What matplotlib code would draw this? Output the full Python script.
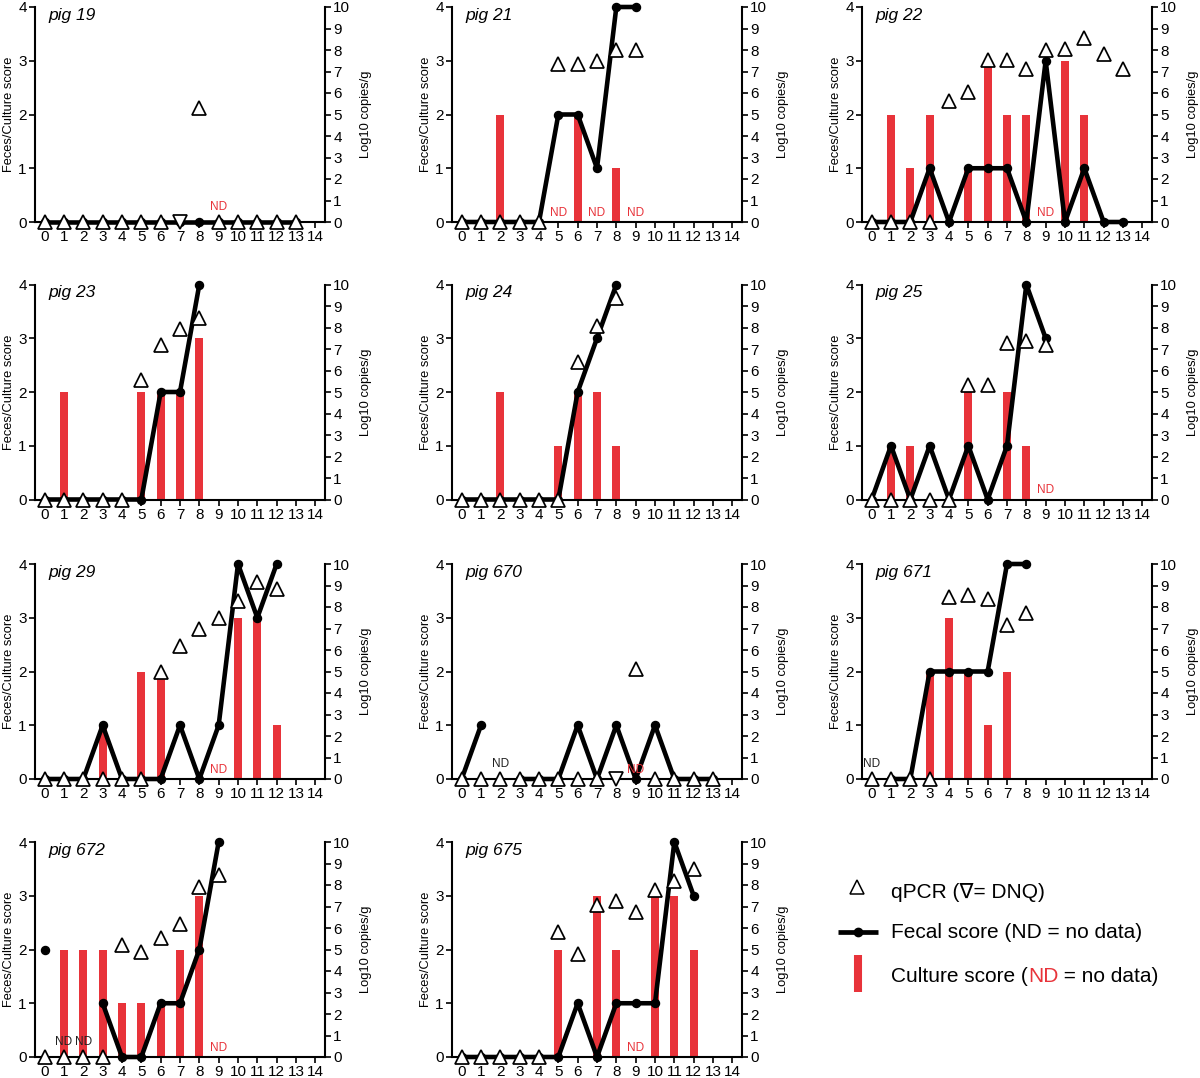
import numpy as np
import matplotlib
matplotlib.use("Agg")
import matplotlib.pyplot as plt
from matplotlib.lines import Line2D

plt.rcParams['font.family'] = ['Liberation Sans', 'DejaVu Sans']

nan = np.nan
RED = '#E8333A'

# ---------------- data ----------------
pig_names = ['pig 19', 'pig 21', 'pig 22', 'pig 23', 'pig 24', 'pig 25',
             'pig 29', 'pig 670', 'pig 671', 'pig 672', 'pig 675']

fecal_19 = [0, 0, 0, 0, 0, 0, 0, 0, 0, 0, 0, 0, 0, 0]
culture_19 = [0, 0, 0, 0, 0, 0, 0, 0, 0, nan, 0, 0, 0, 0]
qpcr_19 = [0, 0, 0, 0, 0, 0, 0, nan, 5.3, 0, 0, 0, 0, 0]
dnq_19 = [7]

fecal_21 = [0, 0, 0, 0, 0, 2, 2, 1, 4, 4]
culture_21 = [0, 0, 2, 0, 0, nan, 2, nan, 1, nan]
qpcr_21 = [0, 0, 0, 0, 0, 7.35, 7.35, 7.5, 8.0, 8.0]
dnq_21 = []

fecal_22 = [0, 0, 0, 1, 0, 1, 1, 1, 0, 3, 0, 1, 0, 0]
culture_22 = [0, 2, 1, 2, 0, 1, 3, 2, 2, nan, 3, 2, 0, 0]
qpcr_22 = [0, 0, 0, 0, 5.65, 6.05, 7.55, 7.52, 7.1, 8.0, 8.05, 8.55, 7.8, 7.12]
dnq_22 = []

fecal_23 = [0, 0, 0, 0, 0, 0, 2, 2, 4]
culture_23 = [0, 2, 0, 0, 0, 2, 2, 2, 3]
qpcr_23 = [0, 0, 0, 0, 0, 5.57, 7.2, 7.95, 8.45]
dnq_23 = []

fecal_24 = [0, 0, 0, 0, 0, 0, 2, 3, 4]
culture_24 = [0, 0, 2, 0, 0, 1, 2, 2, 1]
qpcr_24 = [0, 0, 0, 0, 0, 0, 6.4, 8.07, 9.35]
dnq_24 = []

fecal_25 = [0, 1, 0, 1, 0, 1, 0, 1, 4, 3]
culture_25 = [0, 1, 1, 0, 0, 2, 0, 2, 1, nan]
qpcr_25 = [0, 0, 0, 0, 0, 5.33, 5.32, 7.3, 7.37, 7.17]
dnq_25 = []

fecal_29 = [0, 0, 0, 1, 0, 0, 0, 1, 0, 1, 4, 3, 4]
culture_29 = [0, 0, 0, 1, 0, 2, 2, 0, 0, nan, 3, 3, 1]
qpcr_29 = [0, 0, 0, 0, 0, 0, 5.0, 6.2, 7.0, 7.48, 8.3, 9.15, 8.85]
dnq_29 = []

fecal_670 = [0, 1, nan, 0, 0, 0, 1, 0, 1, 0, 1, 0, 0, 0]
culture_670 = [0, 0, 0, 0, 0, 0, 0, 0, 0, nan, 0, 0, 0, 0]
qpcr_670 = [0, 0, 0, 0, 0, 0, 0, 0, nan, 5.12, 0, 0, 0, 0]
dnq_670 = [8]

fecal_671 = [nan, 0, 0, 2, 2, 2, 2, 4, 4]
culture_671 = [0, 0, 0, 2, 3, 2, 1, 2]
qpcr_671 = [0, 0, 0, 0, 8.45, 8.57, 8.35, 7.14, 7.71]
dnq_671 = []

fecal_672 = [2, nan, nan, 1, 0, 0, 1, 1, 2, 4]
culture_672 = [0, 2, 2, 2, 1, 1, 1, 2, 3, nan]
qpcr_672 = [0, 0, 0, 0, 5.19, 4.88, 5.55, 6.2, 7.9, 8.45]
dnq_672 = []

fecal_675 = [0, 0, 0, 0, 0, 0, 1, 0, 1, 1, 1, 4, 3]
culture_675 = [0, 0, 0, 0, 0, 2, 0, 3, 2, nan, 3, 3, 2]
qpcr_675 = [0, 0, 0, 0, 0, 5.81, 4.81, 7.05, 7.26, 6.74, 7.75, 8.19, 8.73]
dnq_675 = []

# days with "ND" label: culture (red) and fecal (black)
nd_culture = {'pig 19': [9], 'pig 21': [5, 7, 9], 'pig 22': [9], 'pig 25': [9],
              'pig 29': [9], 'pig 670': [9], 'pig 672': [9], 'pig 675': [9]}
nd_fecal = {'pig 670': [2], 'pig 671': [0], 'pig 672': [1, 2]}

fecal_all = [fecal_19, fecal_21, fecal_22, fecal_23, fecal_24, fecal_25,
             fecal_29, fecal_670, fecal_671, fecal_672, fecal_675]
culture_all = [culture_19, culture_21, culture_22, culture_23, culture_24, culture_25,
               culture_29, culture_670, culture_671, culture_672, culture_675]
qpcr_all = [qpcr_19, qpcr_21, qpcr_22, qpcr_23, qpcr_24, qpcr_25,
            qpcr_29, qpcr_670, qpcr_671, qpcr_672, qpcr_675]
dnq_all = [dnq_19, dnq_21, dnq_22, dnq_23, dnq_24, dnq_25,
           dnq_29, dnq_670, dnq_671, dnq_672, dnq_675]

day_ticks = list(range(15))
left_ticks = [0, 1, 2, 3, 4]
right_ticks = list(range(11))

# ---------------- layout ----------------
W, H = 1200, 1078
fig = plt.figure(figsize=(W / 100, H / 100), dpi=100)

col_left = [35, 452, 862]
row_top = [7, 284.5, 564, 842]
aw, ah = 290, 215


def px_rect(x, y, w, h):
    return [x / W, 1 - (y + h) / H, w / W, h / H]


for i, name in enumerate(pig_names):
    r, c = divmod(i, 3)
    ax = fig.add_axes(px_rect(col_left[c], row_top[r], aw, ah))
    ax2 = ax.twinx()
    ax.set_xlim(-0.5, 14.5)
    ax.set_ylim(0, 4)
    ax2.set_ylim(0, 10)

    fecal = np.array(fecal_all[i], dtype=float)
    culture = np.array(culture_all[i], dtype=float)
    qpcr = np.array(qpcr_all[i], dtype=float)

    ax.bar(np.arange(len(culture)), culture, width=0.42, color=RED,
           linewidth=0, zorder=2)
    ax.plot(np.arange(len(fecal)), fecal, '-o', color='black', lw=3.3,
            ms=5.8, zorder=3, clip_on=False)
    ax2.plot(np.arange(len(qpcr)), qpcr, linestyle='none', marker='^',
             ms=10, mfc='white', mec='black', mew=1.25, clip_on=False, zorder=4)
    if dnq_all[i]:
        ax2.plot(dnq_all[i], [0] * len(dnq_all[i]), linestyle='none', marker='v',
                 ms=10, mfc='white', mec='black', mew=1.25, clip_on=False, zorder=4)

    for d in nd_culture.get(name, []):
        ax.text(d, 0.17 if name != 'pig 19' else 0.27, 'ND', color=RED,
                fontsize=8.5, ha='center', va='center', zorder=5)
    for d in nd_fecal.get(name, []):
        ax.text(d, 0.27, 'ND', color='#222222', fontsize=8.5,
                ha='center', va='center', zorder=5)

    ax.text(0.045, 0.962, name, transform=ax.transAxes, style='italic',
            fontsize=12.5, va='center', ha='left')

    for a in (ax, ax2):
        a.spines['top'].set_visible(False)
        for s in a.spines.values():
            s.set_linewidth(1.5)
    ax.spines['right'].set_visible(False)
    ax2.spines['left'].set_visible(False)
    ax2.spines['bottom'].set_visible(False)

    ax.set_xticks(day_ticks)
    ax.set_yticks(left_ticks)
    ax2.set_yticks(right_ticks)
    ax.tick_params(axis='both', direction='out', length=4, width=1.2,
                   labelsize=11, pad=2)
    ax2.tick_params(axis='y', direction='out', length=4, width=1.2,
                    labelsize=11, pad=2)
    ax.set_ylabel('Feces/Culture score', fontsize=9.3, labelpad=2)
    ax2.set_ylabel('Log10 copies/g', fontsize=9.3, labelpad=7)

# ---------------- legend ----------------
def fx(x):
    return x / W


def fy(y):
    return 1 - y / H


fig.add_artist(Line2D([fx(857)], [fy(887)], marker='^', ms=9.5, mfc='white',
                      mec='black', mew=1.1, linestyle='none'))
fig.add_artist(Line2D([fx(838), fx(878)], [fy(932), fy(932)], color='black',
                      lw=3.4, solid_capstyle='butt'))
fig.add_artist(Line2D([fx(858)], [fy(932)], color='black', marker='o', ms=6,
                      linestyle='none'))
fig.add_artist(Line2D([fx(858), fx(858)], [fy(955), fy(992)], color=RED,
                      lw=5.8, solid_capstyle='butt'))

LFS = 15
tx = fx(891)
fig.text(tx, fy(892), 'qPCR (\u2207= DNQ)', fontsize=LFS, va='center', ha='left')
fig.text(tx, fy(933), 'Fecal score (ND = no data)', fontsize=LFS, va='center', ha='left')

renderer = fig.canvas.get_renderer()
base_y = fy(974 + 7.5)
x_cur = tx
for piece, col in [('Culture score (', 'black'), ('ND', RED), (' = no data)', 'black')]:
    t = fig.text(x_cur, base_y, piece, fontsize=LFS, va='baseline', ha='left', color=col)
    bb = t.get_window_extent(renderer)
    x_cur = bb.x1 / W

fig.savefig('out.png', dpi=100)
